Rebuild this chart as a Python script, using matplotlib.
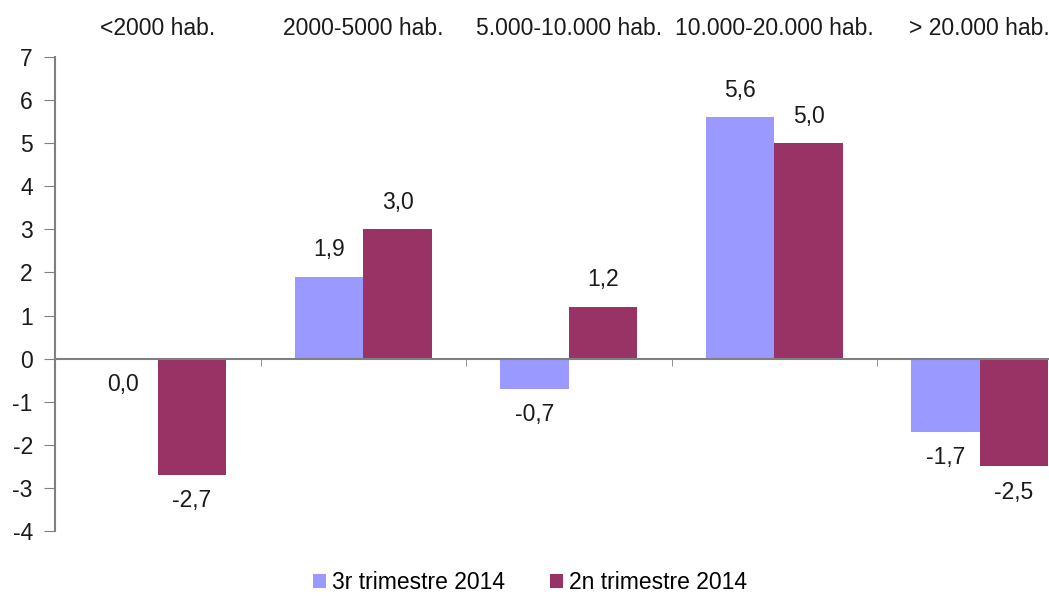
import numpy as np
import matplotlib
matplotlib.use('Agg')
import matplotlib.pyplot as plt
from matplotlib.ticker import MultipleLocator, FixedLocator

plt.rcParams['font.family'] = ['Liberation Sans', 'DejaVu Sans']
plt.rcParams['axes.unicode_minus'] = False

# data
categories = ['<2000 hab.', '2000-5000 hab.', '5.000-10.000 hab.',
              '10.000-20.000 hab.', '> 20.000 hab.']
q3_2014 = [0.0, 1.9, -0.7, 5.6, -1.7]
q2_2014 = [-2.7, 3.0, 1.2, 5.0, -2.5]
series_names = ['3r trimestre 2014', '2n trimestre 2014']

col_q3 = '#9999FF'
col_q2 = '#993366'
axis_col = '#808080'
txt_col = '#1a1a1a'
fs = 16.5

fig = plt.figure(figsize=(10.49, 5.98), dpi=100)
ax = fig.add_axes([55 / 1049, 1 - 531 / 598, 1 - 55 / 1049, (531 - 57) / 598])

x = np.arange(len(categories))
w = 1 / 3
b1 = ax.bar(x - w / 2, q3_2014, w, color=col_q3, label=series_names[0])
b2 = ax.bar(x + w / 2, q2_2014, w, color=col_q2, label=series_names[1])

# value labels, decimal comma
for bars, vals in ((b1, q3_2014), (b2, q2_2014)):
    for rect, v in zip(bars, vals):
        off = 27 if v > 0 else -26
        ax.annotate(f'{v:.1f}'.replace('.', ','),
                    (rect.get_x() + rect.get_width() / 2, v),
                    xytext=(0, off), textcoords='offset pixels',
                    ha='center', va='center', fontsize=fs, color=txt_col)

ax.set_ylim(-4, 7)
ax.set_xlim(-0.5, -0.5 + (1049 - 55) / 205.5)
ax.yaxis.set_major_locator(MultipleLocator(1))

# category labels on top, separator ticks on the zero line
ax.set_xticks(x)
ax.set_xticklabels(categories)
ax.xaxis.set_minor_locator(FixedLocator(np.arange(len(categories) - 1) + 0.5))
ax.tick_params(axis='x', which='major', bottom=False, labelbottom=False,
               top=True, labeltop=True, length=0, pad=12, labelsize=fs,
               labelcolor=txt_col)
ax.tick_params(axis='x', which='minor', bottom=True, top=False,
               direction='out', length=5, color=axis_col)
ax.tick_params(axis='y', direction='out', length=8, pad=8, color=axis_col,
               labelsize=fs, labelcolor=txt_col)

ax.spines['top'].set_visible(False)
ax.spines['right'].set_visible(False)
ax.spines['bottom'].set_position(('data', 0))
for s in ('left', 'bottom'):
    ax.spines[s].set_color(axis_col)
    ax.spines[s].set_linewidth(1.5)

fig.legend(loc='lower center', bbox_to_anchor=(530 / 1049, -0.02), ncol=2,
           frameon=False, fontsize=fs, handlelength=0.55, handleheight=0.55,
           handletextpad=0.25, columnspacing=2.0, borderaxespad=0.3)

fig.savefig('out.png', dpi=100)
